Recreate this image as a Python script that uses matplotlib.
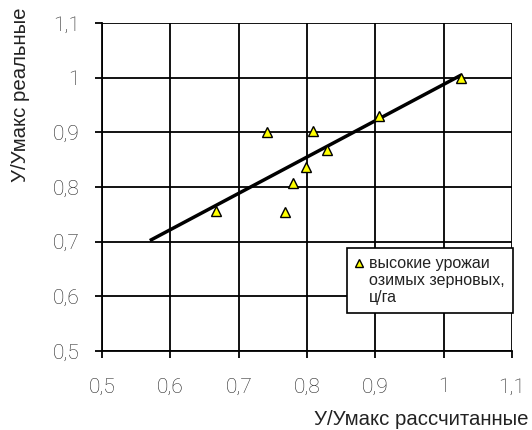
import matplotlib
matplotlib.use("Agg")
import numpy as np
import matplotlib.pyplot as plt
from matplotlib.ticker import FuncFormatter
from matplotlib.legend_handler import HandlerLine2D

# data
x_calc = [0.667, 0.742, 0.768, 0.780, 0.799, 0.809, 0.829, 0.906, 1.026]
y_real = [0.757, 0.900, 0.755, 0.807, 0.836, 0.903, 0.867, 0.930, 0.999]
trend_x = [0.570, 1.026]
trend_y = [0.702, 1.005]
ticks = [0.5, 0.6, 0.7, 0.8, 0.9, 1.0, 1.1]
series_label = "высокие урожаи\nозимых зерновых,\nц/га"
xlabel = "У/Умакс рассчитанные"
ylabel = "У/Умакс реальные"

plt.rcParams['font.family'] = ['Liberation Sans', 'DejaVu Sans']


class TopLineHandler(HandlerLine2D):
    def create_artists(self, legend, orig_handle, xdescent, ydescent,
                       width, height, fontsize, trans):
        arts = super().create_artists(legend, orig_handle, xdescent, ydescent,
                                      width, height, fontsize, trans)
        for a in arts:
            a.set_ydata(np.asarray(a.get_ydata(), dtype=float) + fontsize * 1.15)
        return arts


fig = plt.figure(figsize=(5.32, 4.30), dpi=100)
ax = fig.add_axes([102/532, 1-351/430, 410/532, 328/430])

ax.set_xlim(0.5, 1.1)
ax.set_ylim(0.5, 1.1)
ax.set_xticks(ticks)
ax.set_yticks(ticks)
fmt = FuncFormatter(lambda v, p: ("%g" % round(v, 2)).replace('.', ','))
ax.xaxis.set_major_formatter(fmt)
ax.yaxis.set_major_formatter(fmt)
ax.grid(True, color='black', linewidth=1.3)
ax.set_axisbelow(True)
for s in ax.spines.values():
    s.set_linewidth(1.3)
ax.spines['top'].set_visible(False)
ax.spines['right'].set_visible(False)
ax.tick_params(direction='out', length=5, width=1.3, labelsize=15,
               labelcolor='#222222')
ax.tick_params(axis='x', pad=14)
ax.tick_params(axis='y', pad=11)
for lab in ax.get_xticklabels() + ax.get_yticklabels():
    lab.set_family(['Roboto', 'Liberation Sans'])
    lab.set_fontweight('light')

ax.plot(trend_x, trend_y, color='black', linewidth=2.5, zorder=3,
        solid_capstyle='butt')
pts, = ax.plot(x_calc, y_real, linestyle='none', marker='^', markersize=7.5,
               markerfacecolor='#FFFF00', markeredgecolor='black',
               markeredgewidth=1.0, zorder=4, label=series_label)

leg = ax.legend(loc='upper left', bbox_to_anchor=((347-102)/410, (351-248)/328),
                frameon=True, fancybox=False, fontsize=11.5, handlelength=0.6,
                handletextpad=0.32, borderpad=0.48, borderaxespad=0,
                framealpha=1, edgecolor='black', markerscale=0.7,
                handler_map={pts: TopLineHandler()})
leg.get_frame().set_linewidth(1.2)
for t in leg.get_texts():
    t.set_color('#222222')

fig.text(528/532, 1-425/430, xlabel, ha='right', va='baseline', fontsize=14.7,
         color='#222222')
fig.text(21/532, 1-7/430, ylabel, ha='center', va='top', rotation=90,
         fontsize=14.7, color='#222222')

fig.savefig("out.png", dpi=100, facecolor='white')
